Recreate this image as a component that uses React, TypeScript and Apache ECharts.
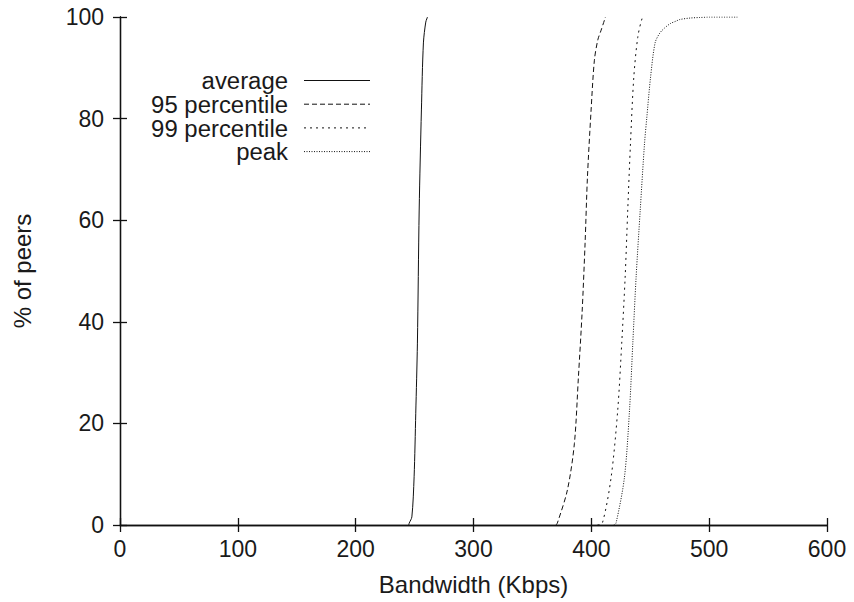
import React, { useEffect, useRef } from "react";
import * as echarts from "echarts";

const seriesNames = ["average", "95 percentile", "99 percentile", "peak"];

const averageData: [number, number][] = [
  [245, 0], [245.5, 0.4], [247.7, 1.6], [249.6, 9.5], [251, 22], [252.4, 35.8],
  [253.9, 62], [255.8, 81.7], [257.5, 94.9], [259.5, 99], [261, 100],
];
const p95Data: [number, number][] = [
  [370, 0], [371.2, 0.4], [379.7, 6.9], [385.6, 16], [389, 29], [392.2, 42],
  [394.7, 55.5], [396.7, 68.5], [399.8, 81.7], [402.6, 91.5], [405.5, 95.5],
  [408.3, 97.4], [412, 100],
];
const p99Data: [number, number][] = [
  [405.2, 0], [409.4, 0.4], [416.8, 9.4], [422.4, 22.6], [425.8, 35.8],
  [428.7, 48.8], [430.9, 62], [433.2, 75], [436, 88], [439.4, 96],
  [443.2, 99.8], [445, 100],
];
const peakData: [number, number][] = [
  [419, 0], [421, 0.4], [428.1, 9.4], [432.4, 22.6], [435.2, 35.8], [438, 48.8],
  [441.5, 62], [445.1, 75], [447, 80], [450.2, 88], [454.1, 94.9], [458, 96.8],
  [462, 97.8], [467, 98.7], [472, 99.2], [475, 99.5], [484, 99.8], [492, 99.9],
  [500, 100], [524, 100],
];

const xTicks = [0, 100, 200, 300, 400, 500, 600];
const yTicks = [0, 20, 40, 60, 80, 100];

const lineDashes: (number[] | "solid")[] = ["solid", [5, 3], [2, 4], [1, 1.5]];

const FONT = "Liberation Sans, Arial, Helvetica, sans-serif";

export default function App() {
  const ref = useRef<HTMLDivElement>(null);
  useEffect(() => {
    if (!ref.current) return;
    const chart = echarts.init(ref.current, undefined, { renderer: "svg" });
    const datasets = [averageData, p95Data, p99Data, peakData];
    const legendTop = 80.5;
    const legendStep = 23.7;
    const graphics: any[] = [];
    seriesNames.forEach((n, i) => {
      const y = legendTop + i * legendStep;
      graphics.push({
        type: "text",
        x: 288,
        y: y + 1,
        scaleX: 1.04,
        style: {
          text: n,
          font: `23px ${FONT}`,
          lineHeight: 20,
          fill: "#1a1a1a",
          align: "right",
          verticalAlign: "middle",
        },
      });
      graphics.push({
        type: "line",
        shape: { x1: 304, y1: y, x2: 370, y2: y },
        style: {
          stroke: "#111",
          lineWidth: 1,
          lineDash: lineDashes[i] === "solid" ? null : lineDashes[i],
        },
      });
    });

    const axisCommon = {
      type: "value" as const,
      axisLine: { show: true, lineStyle: { color: "#111", width: 1.3 } },
      axisTick: { show: true, inside: true, length: 7, lineStyle: { color: "#111", width: 1.3 } },
      splitLine: { show: false },
    };

    chart.setOption({
      animation: false,
      backgroundColor: "#fff",
      grid: { left: 120, right: 27, top: 17, bottom: 77, containLabel: false },
      xAxis: [
        {
          ...axisCommon,
          position: "bottom",
          min: 0,
          max: 600,
          interval: 100,
          name: "Bandwidth (Kbps)",
          nameLocation: "middle",
          nameGap: 47,
          nameTextStyle: { fontFamily: FONT, fontSize: 24, color: "#1a1a1a" },
          axisLabel: {
            fontFamily: FONT,
            fontSize: 23,
            color: "#1a1a1a",
            margin: 12,
            formatter: (v: number) => (xTicks.includes(v) ? String(v) : ""),
          },
        },
        {
          ...axisCommon,
          position: "top",
          min: 0,
          max: 600,
          interval: 100,
          axisLabel: { show: false },
        },
      ],
      yAxis: [
        {
          ...axisCommon,
          position: "left",
          min: 0,
          max: 100,
          interval: 20,
          name: "% of peers",
          nameLocation: "middle",
          nameGap: 86,
          nameTextStyle: { fontFamily: FONT, fontSize: 24, color: "#1a1a1a" },
          axisLabel: {
            fontFamily: FONT,
            fontSize: 23,
            color: "#1a1a1a",
            margin: 16,
            formatter: (v: number) => (yTicks.includes(v) ? String(v) : ""),
          },
        },
        {
          ...axisCommon,
          position: "right",
          min: 0,
          max: 100,
          interval: 20,
          axisLabel: { show: false },
        },
      ],
      graphic: graphics,
      series: seriesNames.map((n, i) => ({
        name: n,
        type: "line",
        data: datasets[i],
        xAxisIndex: 0,
        yAxisIndex: 0,
        showSymbol: false,
        symbol: "none",
        smooth: 0.3,
        lineStyle: {
          color: "#111",
          width: 1,
          type: lineDashes[i] === "solid" ? "solid" : lineDashes[i],
        },
      })),
    });
    return () => chart.dispose();
  }, []);
  return <div ref={ref} style={{ width: 854, height: 602, position: "absolute", left: 0, top: 0 }} />;
}
